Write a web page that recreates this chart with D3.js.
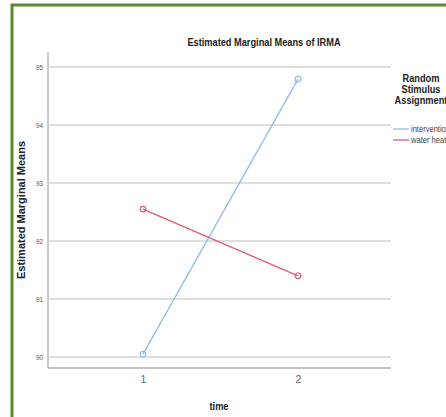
<!DOCTYPE html>
<html>
<head>
<meta charset="utf-8">
<script src="https://cdn.jsdelivr.net/npm/d3@7"></script>
<style>
  body {margin: 0; background: white;}
  svg text {font-family: "Liberation Sans", Arial, sans-serif;}
</style>
</head>
<body>
<svg width="446" height="417"></svg>
<script>
// données
var temps = ["1", "2"];
var seriesNoms = ["intervention", "water heat"];
var intervention = [90.05, 94.79];
var waterHeat = [92.55, 91.40];
var ticksY = [90, 91, 92, 93, 94, 95];
var couleurs = ["#8fbbef", "#e05a74"];

var svg = d3.select("svg");
var etroit = 0.84; // compression horizontale façon "Arial Narrow"

function texteEtroit(parent, x, y, taille, gras, couleur, contenu, ancre) {
  return parent.append("text")
    .attr("transform", "translate(" + x + "," + y + ") scale(" + etroit + ",1)")
    .attr("text-anchor", ancre || "middle")
    .style("font-size", taille + "px")
    .style("font-weight", gras ? "bold" : "normal")
    .attr("fill", couleur)
    .text(contenu);
}

// cadre vert
svg.append("rect")
  .attr("x", 12).attr("y", 5)
  .attr("width", 446).attr("height", 430)
  .attr("fill", "none")
  .attr("stroke", "#5a8a32")
  .attr("stroke-width", 3);

var echelleX = d3.scalePoint()
  .domain(temps)
  .range([143, 298]);

var echelleY = d3.scaleLinear()
  .domain([90, 95])
  .range([357, 67]);

// grille
svg.append("g")
  .selectAll("line")
  .data(ticksY)
  .enter()
  .append("line")
    .attr("x1", 48).attr("x2", 391)
    .attr("y1", function (d) { return echelleY(d); })
    .attr("y2", function (d) { return echelleY(d); })
    .attr("stroke", "#d4d4d4")
    .attr("stroke-width", 1.5);

// axe Y
var axeY = d3.axisLeft(echelleY).tickValues(ticksY).tickFormat(d3.format("d")).tickSize(0).tickPadding(5);
var gY = svg.append("g")
  .attr("transform", "translate(48,0)")
  .call(axeY);
gY.select(".domain").remove();
gY.selectAll("text")
  .attr("x", null)
  .attr("transform", "translate(-5,0) scale(" + etroit + ",1)")
  .style("font-size", "7.5px")
  .attr("fill", "#555");
svg.append("line")
  .attr("x1", 48).attr("x2", 48)
  .attr("y1", 52).attr("y2", 368)
  .attr("stroke", "#bbb").attr("stroke-width", 1.5);

// axe X
var axeX = d3.axisBottom(echelleX).tickSize(0).tickPadding(8);
var gX = svg.append("g")
  .attr("transform", "translate(0,368)")
  .call(axeX);
gX.select(".domain").remove();
gX.selectAll("text")
  .style("font-size", "10.5px")
  .attr("fill", "#666");
svg.append("line")
  .attr("x1", 48).attr("x2", 391)
  .attr("y1", 368).attr("y2", 368)
  .attr("stroke", "#888").attr("stroke-width", 1.2);

// titres
texteEtroit(svg, 264, 46, 11, true, "#222", "Estimated Marginal Means of IRMA");
texteEtroit(svg, 219, 410, 11, true, "#222", "time");

svg.append("text")
  .attr("transform", "translate(25,210) rotate(-90)")
  .attr("text-anchor", "middle")
  .style("font-size", "11px").style("font-weight", "bold")
  .attr("fill", "#222")
  .text("Estimated Marginal Means");

// séries
var donnees = [intervention, waterHeat];
var ligne = d3.line()
  .x(function (d, i) { return echelleX(temps[i]); })
  .y(function (d) { return echelleY(d); });

donnees.forEach(function (serie, k) {
  svg.append("path")
    .datum(serie)
    .attr("d", ligne)
    .attr("fill", "none")
    .attr("stroke", couleurs[k])
    .attr("stroke-width", 1.3);
  svg.append("g")
    .selectAll("circle")
    .data(serie)
    .enter()
    .append("circle")
      .attr("cx", function (d, i) { return echelleX(temps[i]); })
      .attr("cy", function (d) { return echelleY(d); })
      .attr("r", 2.8)
      .attr("fill", "none")
      .attr("stroke", couleurs[k])
      .attr("stroke-width", 1.2);
});

// légende
var titreLegende = ["Random", "Stimulus", "Assignment"];
titreLegende.forEach(function (t, i) {
  texteEtroit(svg, 421, 82 + i * 11, 11, true, "#222", t);
});

var gLeg = svg.append("g")
  .selectAll("g")
  .data(seriesNoms)
  .enter()
  .append("g")
    .attr("transform", function (d, i) { return "translate(393," + (129 + i * 11) + ")"; });
gLeg.append("line")
  .attr("x1", 0).attr("x2", 16)
  .attr("stroke", function (d, i) { return couleurs[i]; })
  .attr("stroke-width", 1.3);
gLeg.append("text")
  .attr("transform", "translate(18,3) scale(" + etroit + ",1)")
  .style("font-size", "9px")
  .attr("fill", "#444")
  .text(function (d) { return d; });
</script>
</body>
</html>
